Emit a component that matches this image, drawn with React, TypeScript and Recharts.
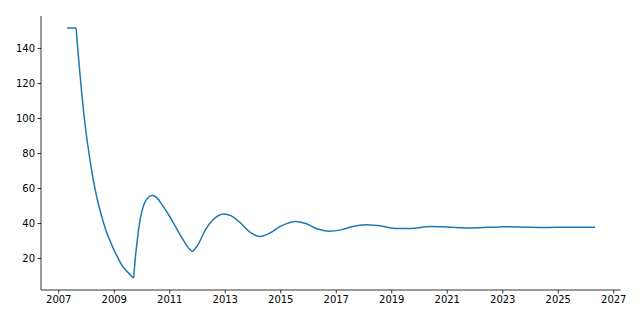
import React from "react";
import { LineChart, Line, XAxis, YAxis } from "recharts";

const years: number[] = [
  2007.3, 2007.62, 2007.65, 2007.75, 2007.93, 2008.0, 2008.12, 2008.26, 2008.4, 2008.54,
  2008.7, 2008.85, 2009.0, 2009.15, 2009.28, 2009.4, 2009.55, 2009.7, 2009.72, 2009.76, 2009.83,
  2009.88, 2009.94, 2010.06, 2010.19, 2010.37, 2010.55, 2010.73, 2010.96, 2011.18, 2011.45,
  2011.65, 2011.81, 2012.0, 2012.29, 2012.55, 2012.95, 2013.2, 2013.5, 2013.9, 2014.24,
  2014.6, 2015.0, 2015.53, 2015.9, 2016.3, 2016.73, 2017.2, 2017.6, 2018.05, 2018.5,
  2019.2, 2019.7, 2020.4, 2021.0, 2021.8, 2022.5, 2023.1, 2023.8, 2024.5, 2025.3,
  2026.33,
];

const values: number[] = [
  151.8, 151.8, 146.5, 128, 99, 90, 77, 63.5, 53, 44.5,
  36, 30, 24.5, 19.8, 16, 13.6, 11.2, 9, 13, 20.5, 30.5,
  37, 43, 50.5, 54.3, 56.2, 54.5, 50.5, 45, 39, 31.5,
  26.5, 24.2, 27.5, 36.5, 42, 45.5, 44.5, 41, 35, 32.6,
  34.5, 38.5, 41.2, 40, 37, 35.6, 36.5, 38.3, 39.3, 38.8,
  37.1, 37.2, 38.3, 38.0, 37.5, 37.8, 38.1, 37.9, 37.7, 37.9,
  37.9,
];

const xTicks: number[] = [2007, 2009, 2011, 2013, 2015, 2017, 2019, 2021, 2023, 2025, 2027];
const yTicks: number[] = [20, 40, 60, 80, 100, 120, 140];

const data = years.map((x, i) => ({ x, y: values[i] }));

const tickStyle = { fill: "#000", fontSize: 10, fontFamily: "DejaVu Sans" };

export default function App() {
  return (
    <div style={{ position: "absolute", left: 0, top: 0 }}>
      <LineChart
        width={640}
        height={320}
        data={data}
        margin={{ top: 16, right: 19.3, bottom: 0, left: 0 }}
      >
        <XAxis
          dataKey="x"
          type="number"
          domain={[2006.36, 2027.25]}
          ticks={xTicks}
          allowDataOverflow
          height={30}
          tick={tickStyle}
          tickSize={3.5}
          tickMargin={2.5}
          axisLine={{ stroke: "#000", strokeWidth: 0.8 }}
          tickLine={{ stroke: "#000", strokeWidth: 0.8 }}
          interval={0}
        />
        <YAxis
          type="number"
          domain={[2.0, 158.6]}
          ticks={yTicks}
          allowDataOverflow
          width={41}
          tick={tickStyle}
          tickSize={3.5}
          tickMargin={2.5}
          axisLine={{ stroke: "#000", strokeWidth: 0.8 }}
          tickLine={{ stroke: "#000", strokeWidth: 0.8 }}
          interval={0}
        />
        <Line
          dataKey="y"
          type="monotone"
          stroke="#1f77b4"
          strokeWidth={1.5}
          dot={false}
          isAnimationActive={false}
        />
      </LineChart>
    </div>
  );
}
